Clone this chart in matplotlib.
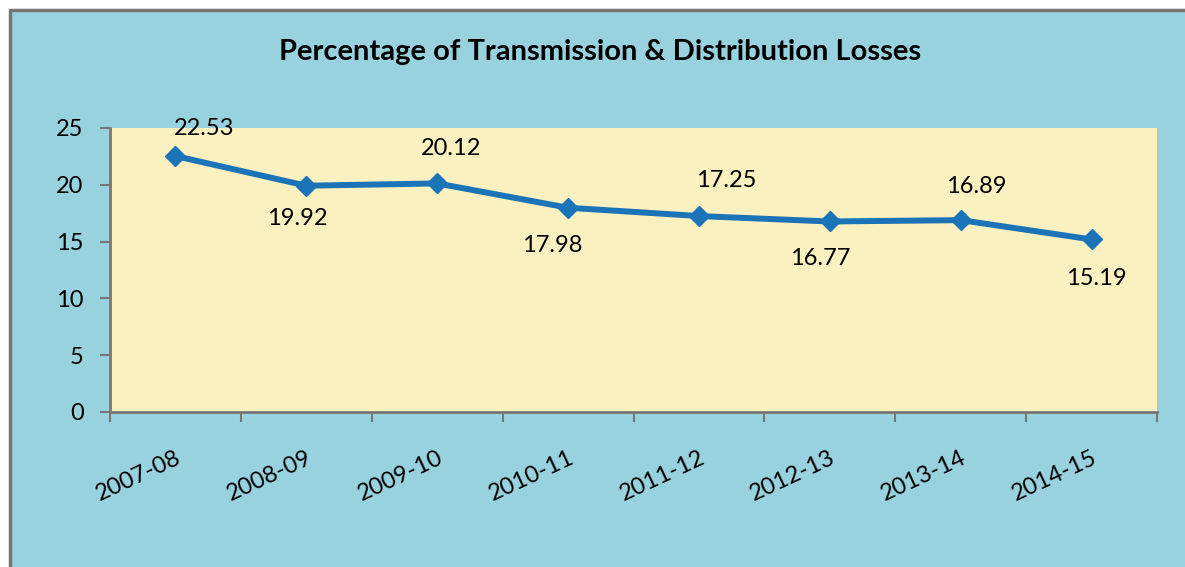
import matplotlib
matplotlib.use("Agg")
import matplotlib.pyplot as plt
from matplotlib.patches import Rectangle

years = ["2007-08", "2008-09", "2009-10", "2010-11", "2011-12", "2012-13", "2013-14", "2014-15"]
losses = [22.53, 19.92, 20.12, 17.98, 17.25, 16.77, 16.89, 15.19]
yticks = [0, 5, 10, 15, 20, 25]

# data-label offsets from each marker, in pixels (x right, y up)
label_dx = [29, -9, 14, -16, 27, -10, 16, 5]
label_dy = [28, -33, 35, -38, 36, -37, 34, -39]

W, H = 1185, 567
plt.rcParams['font.family'] = ['Lato', 'DejaVu Sans']
fig = plt.figure(figsize=(W / 100, H / 100), dpi=100, facecolor="white")

bg = "#98D2DE"
frame = Rectangle((10 / W, -0.2), 1.2, 1 - 10 / H + 0.2, transform=fig.transFigure,
                  facecolor=bg, edgecolor="#767676", linewidth=2.5, zorder=-10)
fig.patches.append(frame)

ax = fig.add_axes([110 / W, 1 - 412 / H, (1157 - 110) / W, (412 - 128) / H])
ax.set_zorder(5)
ax.set_facecolor("#FBF0C0")

x = list(range(len(years)))
ax.plot(x, losses, color="#1A74B7", linewidth=4.3, marker="D", markersize=10,
        markerfacecolor="#1A74B7", markeredgecolor="#1A74B7", zorder=3, clip_on=False)

for xi, v, dx, dy in zip(x, losses, label_dx, label_dy):
    ax.annotate(f"{v:.2f}", (xi, v), xytext=(dx, dy), textcoords="offset pixels",
                ha="center", va="center", fontsize=17, color="black")

ax.set_xlim(-0.5, len(years) - 0.5)
ax.set_ylim(0, 25)
ax.set_yticks(yticks)
ax.set_yticklabels([str(t) for t in yticks], fontsize=17)

ax.set_xticks([i - 0.5 for i in range(len(years) + 1)], minor=False)
ax.set_xticklabels([""] * (len(years) + 1))
ax.set_xticks(x, minor=True)
ax.set_xticklabels(years, minor=True, rotation=25, ha="right", rotation_mode="anchor", fontsize=17)
ax.tick_params(axis="x", which="minor", length=0, pad=25)
ax.tick_params(axis="x", which="major", length=7, width=1.5, color="#767676", direction="out")
ax.tick_params(axis="y", length=7, width=1.5, color="#767676", direction="out", pad=12)

for s in ["top", "right"]:
    ax.spines[s].set_visible(False)
for s in ["left", "bottom"]:
    ax.spines[s].set_color("#767676")
    ax.spines[s].set_linewidth(2)

fig.text(600 / W, 1 - 52 / H, "Percentage of Transmission & Distribution Losses",
         ha="center", va="center", fontsize=21, fontweight="bold", color="black")

fig.savefig("out.png", dpi=100, facecolor="white")
